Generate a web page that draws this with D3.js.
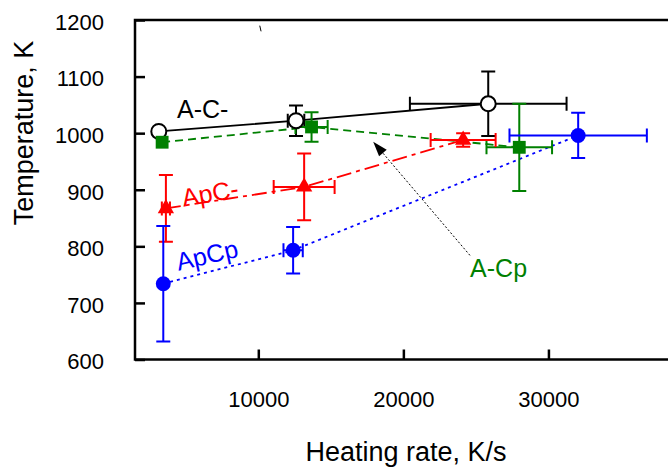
<!DOCTYPE html>
<html>
  <head>
    <script src="https://d3js.org/d3.v7.min.js"></script>
  </head>
  <body>
<svg id="svg"></svg>
<style>
body {
  margin: 0;
  background: #fff;
}
svg {
  display: block;
  font-family: 'Liberation Sans', Arial, sans-serif;
}
</style>
<script type="text/javascript">
// heating rate (K/s) and temperature (K), with half-widths of the error bars
const acmRate = [3140, 12600, 25850];
const acmTemp = [1003, 1022, 1052];
const acmRateErr = [0, 570, 5400];
const acmTempErr = [0, 27, 57];

const acpRate = [3370, 13670, 27990];
const acpTemp = [984, 1011, 975];
const acpRateErr = [0, 1110, 2260];
const acpTempErr = [0, 26, 77];

const apcmRate = [3630, 13160, 24120];
const apcmTemp = [867, 905, 988];
const apcmRateErr = [280, 2100, 2240];
const apcmTempErr = [59, 59, 12];

const apcpRate = [3450, 12400, 32050];
const apcpTemp = [734, 793, 996];
const apcpRateErr = [0, 665, 4735];
const apcpTempErr = [102, 41, 40];

const xTicks = [10000, 20000, 30000];
const yTicks = [600, 700, 800, 900, 1000, 1100, 1200];

const width = 668, height = 470;
const svg = d3.select("#svg").attr("width", width).attr("height", height);

const x = d3.scaleLinear().domain([1500, 40000]).range([135, 693.5]);
const y = d3.scaleLinear().domain([600, 1200]).range([359.5, 20]);

const series = [
  {name: "A-C-", rate: acmRate, temp: acmTemp, ex: acmRateErr, ey: acmTempErr, color: "#000000", dash: null, marker: "open"},
  {name: "A-Cp", rate: acpRate, temp: acpTemp, ex: acpRateErr, ey: acpTempErr, color: "#008000", dash: "8,5", marker: "square"},
  {name: "ApC-", rate: apcmRate, temp: apcmTemp, ex: apcmRateErr, ey: apcmTempErr, color: "#ff0000", dash: "15,5,4,5", marker: "triangle"},
  {name: "ApCp", rate: apcpRate, temp: apcpTemp, ex: apcpRateErr, ey: apcpTempErr, color: "#0000ff", dash: "3,4", marker: "dot"}
];

// axes, ticks point inward
const xAxis = svg.append("g")
  .attr("transform", `translate(0,${y.range()[0]})`)
  .call(d3.axisBottom(x).tickValues(xTicks).tickSize(-10).tickPadding(32).tickFormat(d3.format("d")));
const yAxis = svg.append("g")
  .attr("transform", `translate(${x.range()[0]},0)`)
  .call(d3.axisLeft(y).tickValues(yTicks).tickSize(-10).tickPadding(31).tickFormat(d3.format("d")));
[xAxis, yAxis].forEach(a => {
  a.select(".domain").remove();
  a.selectAll("line").attr("stroke", "#000").attr("stroke-width", 2.5);
  a.selectAll("text").attr("font-size", 22).attr("fill", "#000");
});
yAxis.selectAll("text").attr("dy", "0.42em");

svg.append("rect")
  .attr("x", x.range()[0]).attr("y", y.range()[1])
  .attr("width", x.range()[1] - x.range()[0])
  .attr("height", y.range()[0] - y.range()[1])
  .attr("fill", "none").attr("stroke", "#000").attr("stroke-width", 2.5);

svg.append("text")
  .attr("x", 406).attr("y", 461)
  .attr("text-anchor", "middle").attr("font-size", 27)
  .text("Heating rate, K/s");
svg.append("text")
  .attr("transform", "translate(33,133) rotate(-90)")
  .attr("text-anchor", "middle").attr("font-size", 27)
  .text("Temperature, K");

// connecting lines
const line = d3.line().x(d => x(d[0])).y(d => y(d[1]));
series.forEach(s => {
  svg.append("path")
    .datum(d3.zip(s.rate, s.temp))
    .attr("d", line)
    .attr("fill", "none")
    .attr("stroke", s.color)
    .attr("stroke-width", 1.8)
    .attr("stroke-dasharray", s.dash);
});

// error bars
const cap = 7;
series.forEach(s => {
  const g = svg.append("g").attr("stroke", s.color).attr("stroke-width", 2).attr("fill", "none");
  s.rate.forEach((r, i) => {
    const cx = x(r), cy = y(s.temp[i]);
    if (s.ey[i] > 0) {
      const y0 = y(s.temp[i] - s.ey[i]), y1 = y(s.temp[i] + s.ey[i]);
      g.append("path").attr("d", `M${cx},${y0}V${y1}M${cx - cap},${y0}H${cx + cap}M${cx - cap},${y1}H${cx + cap}`);
    }
    if (s.ex[i] > 0) {
      const x0 = x(r - s.ex[i]), x1 = x(r + s.ex[i]);
      g.append("path").attr("d", `M${x0},${cy}H${x1}M${x0},${cy - cap}V${cy + cap}M${x1},${cy - cap}V${cy + cap}`);
    }
  });
});

// markers
series.forEach(s => {
  const pts = d3.zip(s.rate, s.temp);
  if (s.marker === "open") {
    svg.append("g").selectAll("circle").data(pts).enter().append("circle")
      .attr("cx", d => x(d[0])).attr("cy", d => y(d[1])).attr("r", 7.5)
      .attr("fill", "#fff").attr("stroke", s.color).attr("stroke-width", 2);
  } else {
    const type = {square: d3.symbolSquare, triangle: d3.symbolTriangle, dot: d3.symbolCircle}[s.marker];
    const size = {square: 165, triangle: 115, dot: 175}[s.marker];
    svg.append("g").selectAll("path").data(pts).enter().append("path")
      .attr("transform", d => `translate(${x(d[0])},${y(d[1])})`)
      .attr("d", d3.symbol().type(type).size(size))
      .attr("fill", s.color);
  }
});

// series labels
const labels = [
  {text: "A-C-", rate: 4400, temp: 1027, angle: 0, color: "#000000"},
  {text: "ApC-", rate: 4850, temp: 870, angle: -10, color: "#ff0000"},
  {text: "ApCp", rate: 4500, temp: 757, angle: -13, color: "#0000ff"},
  {text: "A-Cp", rate: 24600, temp: 745, angle: 0, color: "#008000"}
];
labels.forEach(l => {
  svg.append("text")
    .attr("transform", `translate(${x(l.rate)},${y(l.temp)}) rotate(${l.angle})`)
    .attr("font-size", 25).attr("fill", l.color)
    .text(l.text);
});

// arrow pointing from the A-Cp label to its curve
const arrowFrom = [24590, 784], arrowTo = [17920, 985];
const ax0 = x(arrowFrom[0]), ay0 = y(arrowFrom[1]), ax1 = x(arrowTo[0]), ay1 = y(arrowTo[1]);
const ang = Math.atan2(ay1 - ay0, ax1 - ax0);
const hl = 15, hw = 5;
const bx = ax1 - hl * Math.cos(ang), by = ay1 - hl * Math.sin(ang);
svg.append("line")
  .attr("x1", ax0).attr("y1", ay0).attr("x2", bx).attr("y2", by)
  .attr("stroke", "#000").attr("stroke-width", 1).attr("stroke-dasharray", "2,2");
svg.append("path")
  .attr("d", `M${ax1},${ay1}L${bx + hw * Math.sin(ang)},${by - hw * Math.cos(ang)}L${bx - hw * Math.sin(ang)},${by + hw * Math.cos(ang)}Z`)
  .attr("fill", "#000");

// small stray tick near the top frame
svg.append("line")
  .attr("x1", x(10100)).attr("y1", y(1190)).attr("x2", x(10190)).attr("y2", y(1180))
  .attr("stroke", "#000").attr("stroke-width", 1);
</script>
</body>
</html>
